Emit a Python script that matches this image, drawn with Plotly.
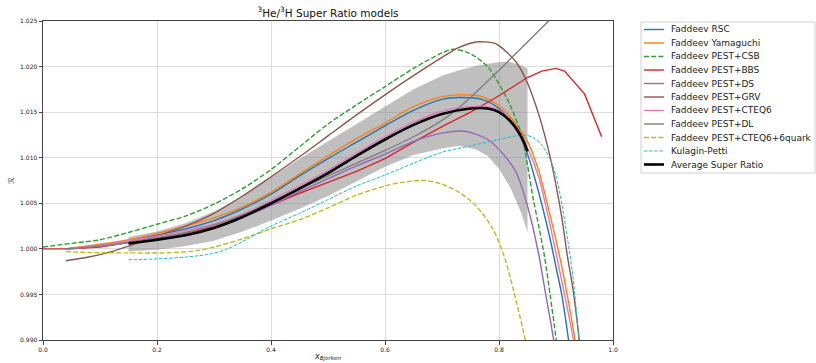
import plotly.graph_objects as go

# ---------------- data ----------------
x_rsc = [0.04, 0.1, 0.15, 0.2, 0.25, 0.3, 0.35, 0.4, 0.45, 0.5, 0.55, 0.6, 0.65, 0.7, 0.73, 0.77, 0.8, 0.83, 0.85, 0.87, 0.89, 0.9, 0.91, 0.92, 0.93]
y_rsc = [1.0000, 1.0004, 1.0009, 1.0015, 1.0022, 1.0031, 1.0044, 1.0060, 1.0080, 1.0099, 1.0117, 1.0135, 1.0152, 1.0164, 1.0166, 1.0164, 1.0154, 1.0132, 1.0104, 1.0061, 1.0010, 0.9980, 0.9950, 0.9909, 0.9862]

x_yam = [0.04, 0.1, 0.15, 0.2, 0.25, 0.3, 0.35, 0.4, 0.45, 0.5, 0.55, 0.6, 0.65, 0.7, 0.73, 0.77, 0.8, 0.83, 0.85, 0.87, 0.89, 0.91, 0.93, 0.94]
y_yam = [1.0000, 1.0005, 1.0010, 1.0017, 1.0025, 1.0034, 1.0046, 1.0062, 1.0082, 1.0102, 1.0121, 1.0138, 1.0156, 1.0167, 1.0169, 1.0167, 1.0157, 1.0137, 1.0118, 1.0085, 1.0036, 0.9981, 0.9913, 0.9875]

x_csb = [0.0, 0.05, 0.1, 0.15, 0.2, 0.25, 0.3, 0.35, 0.4, 0.45, 0.5, 0.55, 0.6, 0.65, 0.7, 0.72, 0.75, 0.78, 0.8, 0.82, 0.84, 0.85, 0.86, 0.87, 0.88, 0.89, 0.9, 0.91]
y_csb = [1.0002, 1.0006, 1.0010, 1.0018, 1.0027, 1.0036, 1.0049, 1.0066, 1.0087, 1.0112, 1.0137, 1.0158, 1.0178, 1.0198, 1.0215, 1.0219, 1.0214, 1.0200, 1.0181, 1.0157, 1.0124, 1.0092, 1.0055, 1.0024, 0.9991, 0.9948, 0.9902, 0.9850]

x_bbs = [0.0, 0.05, 0.1, 0.15, 0.2, 0.25, 0.3, 0.35, 0.4, 0.45, 0.5, 0.55, 0.6, 0.65, 0.7, 0.75, 0.8, 0.85, 0.875, 0.9, 0.915, 0.95, 0.98]
y_bbs = [1.0000, 1.0000, 1.0002, 1.0007, 1.0012, 1.0017, 1.0024, 1.0035, 1.0048, 1.0061, 1.0073, 1.0085, 1.0099, 1.0117, 1.0134, 1.0150, 1.0168, 1.0188, 1.0195, 1.0198, 1.0195, 1.0170, 1.0123]

x_ds = [0.04, 0.1, 0.15, 0.2, 0.25, 0.3, 0.35, 0.4, 0.45, 0.5, 0.55, 0.6, 0.65, 0.7, 0.74, 0.78, 0.81, 0.83, 0.85, 0.87, 0.88, 0.89, 0.9]
y_ds = [1.0000, 1.0003, 1.0007, 1.0011, 1.0016, 1.0023, 1.0034, 1.0048, 1.0063, 1.0077, 1.0091, 1.0104, 1.0118, 1.0127, 1.0129, 1.0120, 1.0102, 1.0084, 1.0047, 0.9993, 0.9957, 0.9922, 0.9885]

x_grv = [0.04, 0.08, 0.12, 0.15, 0.2, 0.25, 0.3, 0.35, 0.4, 0.45, 0.5, 0.55, 0.6, 0.65, 0.7, 0.73, 0.76, 0.79, 0.8, 0.83, 0.85, 0.87, 0.88, 0.89, 0.9, 0.91, 0.92, 0.93, 0.94, 0.95]
y_grv = [0.9987, 0.9991, 0.9997, 1.0003, 1.0014, 1.0025, 1.0039, 1.0058, 1.0079, 1.0101, 1.0124, 1.0147, 1.0169, 1.0190, 1.0210, 1.0221, 1.0227, 1.0226, 1.0223, 1.0205, 1.0182, 1.0147, 1.0125, 1.0100, 1.0070, 1.0035, 0.9992, 0.9955, 0.9905, 0.9850]

x_cteq6 = [0.04, 0.1, 0.15, 0.2, 0.25, 0.3, 0.35, 0.4, 0.45, 0.5, 0.55, 0.6, 0.65, 0.7, 0.75, 0.78, 0.8, 0.83, 0.85, 0.87, 0.89, 0.91, 0.93, 0.94]
y_cteq6 = [1.0000, 1.0004, 1.0009, 1.0014, 1.0020, 1.0027, 1.0038, 1.0053, 1.0069, 1.0086, 1.0105, 1.0123, 1.0139, 1.0151, 1.0156, 1.0156, 1.0152, 1.0135, 1.0111, 1.0078, 1.0025, 0.9965, 0.9902, 0.9860]

x_dl = [0.04, 0.1, 0.15, 0.2, 0.25, 0.3, 0.35, 0.4, 0.45, 0.5, 0.55, 0.6, 0.65, 0.7, 0.72, 0.75, 0.8, 0.85, 0.9]
y_dl = [1.0000, 1.0003, 1.0007, 1.0012, 1.0018, 1.0026, 1.0037, 1.0051, 1.0066, 1.0080, 1.0094, 1.0108, 1.0123, 1.0141, 1.0150, 1.0166, 1.0196, 1.0227, 1.0258]

x_6q = [0.04, 0.08, 0.15, 0.22, 0.27, 0.3, 0.35, 0.4, 0.45, 0.5, 0.55, 0.6, 0.63, 0.67, 0.7, 0.73, 0.76, 0.79, 0.81, 0.83, 0.846, 0.86]
y_6q = [0.9997, 0.9996, 0.99956, 0.99957, 0.9998, 1.0002, 1.0011, 1.0022, 1.0032, 1.0045, 1.0059, 1.0069, 1.0073, 1.0075, 1.0071, 1.0062, 1.0047, 1.0021, 0.9990, 0.9943, 0.9900, 0.9850]

x_kp = [0.15, 0.2, 0.25, 0.29, 0.32, 0.35, 0.4, 0.45, 0.5, 0.55, 0.6, 0.65, 0.7, 0.75, 0.8, 0.83, 0.845, 0.86, 0.875, 0.89, 0.9, 0.91, 0.92, 0.93, 0.94, 0.945]
y_kp = [0.9988, 0.9989, 0.9991, 0.9994, 0.9999, 1.0008, 1.0025, 1.0039, 1.0054, 1.0069, 1.0081, 1.0094, 1.0106, 1.0113, 1.0120, 1.0124, 1.0125, 1.0122, 1.0114, 1.0098, 1.0080, 1.0050, 1.0012, 0.9968, 0.9902, 0.9870]

x_avg = [0.15, 0.2, 0.25, 0.3, 0.35, 0.4, 0.45, 0.5, 0.55, 0.6, 0.65, 0.7, 0.75, 0.78, 0.8, 0.82, 0.84, 0.85]
y_avg = [1.0006, 1.0010, 1.0015, 1.0023, 1.0035, 1.0050, 1.0066, 1.0083, 1.0102, 1.0120, 1.0136, 1.0148, 1.0154, 1.0154, 1.0150, 1.0140, 1.0122, 1.0107]

x_band = [0.15, 0.2, 0.25, 0.3, 0.35, 0.4, 0.45, 0.5, 0.55, 0.6, 0.65, 0.7, 0.73, 0.76, 0.78, 0.8, 0.82, 0.84, 0.85]
y_band_hi = [1.0013, 1.0019, 1.0028, 1.0041, 1.0058, 1.0078, 1.0099, 1.0118, 1.0137, 1.0156, 1.0175, 1.0190, 1.0196, 1.0201, 1.0203, 1.0205, 1.0205, 1.0201, 1.0198]
y_band_lo = [0.9997, 0.9999, 1.0003, 1.0009, 1.0019, 1.0031, 1.0044, 1.0058, 1.0074, 1.0090, 1.0103, 1.0110, 1.0113, 1.0109, 1.0102, 1.0088, 1.0067, 1.0038, 1.0018]

x_ticks = [0.0, 0.2, 0.4, 0.6, 0.8, 1.0]
y_ticks = [0.990, 0.995, 1.000, 1.005, 1.010, 1.015, 1.020, 1.025]

# ---------------- figure ----------------
FONT = "DejaVu Sans"
W, H = 816, 363
ML, MR, MT, MB = 43, 203, 21, 23
PW, PH = W - ML - MR, H - MT - MB

fig = go.Figure()

# uncertainty band of the average
fig.add_trace(go.Scatter(
    x=x_band + x_band[::-1], y=y_band_hi + y_band_lo[::-1],
    fill="toself", fillcolor="rgba(128,128,128,0.5)", line=dict(width=0),
    mode="lines", hoverinfo="skip", showlegend=False))

series = [
    ("Faddeev RSC", x_rsc, y_rsc, "#1f77b4", "solid", 1.4, "spline"),
    ("Faddeev Yamaguchi", x_yam, y_yam, "#ff7f0e", "solid", 1.4, "spline"),
    ("Faddeev PEST+CSB", x_csb, y_csb, "#2ca02c", "5px,2.2px", 1.4, "spline"),
    ("Faddeev PEST+BBS", x_bbs, y_bbs, "#d62728", "solid", 1.4, "linear"),
    ("Faddeev PEST+DS", x_ds, y_ds, "#9467bd", "solid", 1.4, "spline"),
    ("Faddeev PEST+GRV", x_grv, y_grv, "#8c564b", "solid", 1.4, "spline"),
    ("Faddeev PEST+CTEQ6", x_cteq6, y_cteq6, "#e377c2", "solid", 1.4, "spline"),
    ("Faddeev PEST+DL", x_dl, y_dl, "#7f7f7f", "solid", 1.4, "spline"),
    ("Faddeev PEST+CTEQ6+6quark", x_6q, y_6q, "#bcbd22", "5px,2.2px", 1.4, "spline"),
    ("Kulagin-Petti", x_kp, y_kp, "#17becf", "3.5px,1.6px", 1.0, "spline"),
    ("Average Super Ratio", x_avg, y_avg, "#000000", "solid", 2.6, "spline"),
]
for name, xs, ys, col, dash, w, shape in series:
    fig.add_trace(go.Scatter(
        x=xs, y=ys, name=name, mode="lines", showlegend=False,
        line=dict(color=col, dash=dash, width=w, shape=shape, smoothing=0.8)))

# ---- legend box (matplotlib-style, compact rows) drawn in paper coordinates ----
def px_to_paper_x(px):
    return (px - ML) / PW

def py_to_paper_y(py):
    return (H - MB - py) / PH

LEG_LEFT, LEG_RIGHT, LEG_TOP = 641, 815, 22
ROW0, ROW_STEP = 29.5, 13.5
LEG_BOTTOM = ROW0 + ROW_STEP * (len(series) - 1) + 8.5
shapes = [dict(type="rect", xref="paper", yref="paper",
               x0=px_to_paper_x(LEG_LEFT), x1=px_to_paper_x(LEG_RIGHT),
               y0=py_to_paper_y(LEG_BOTTOM), y1=py_to_paper_y(LEG_TOP),
               line=dict(color="#d0d0d0", width=1), fillcolor="white", layer="above")]
annotations = []
for i, (name, xs, ys, col, dash, w, shape) in enumerate(series):
    yy = py_to_paper_y(ROW0 + i * ROW_STEP)
    shapes.append(dict(type="line", xref="paper", yref="paper",
                       x0=px_to_paper_x(644), x1=px_to_paper_x(664), y0=yy, y1=yy,
                       line=dict(color=col, width=w if w > 1.2 else 1.1, dash=dash), layer="above"))
    annotations.append(dict(text=name, xref="paper", yref="paper",
                            x=px_to_paper_x(670), y=yy, xanchor="left", yanchor="middle",
                            showarrow=False, borderpad=0,
                            font=dict(family=FONT, size=9, color="#222222")))

axis_common = dict(
    showline=True, mirror=True, linecolor="#444444", linewidth=1,
    showgrid=True, gridcolor="#dcdcdc", gridwidth=1, zeroline=False,
    ticks="outside", ticklen=3.5, tickwidth=0.8, tickcolor="#444444",
    tickfont=dict(family=FONT, size=6, color="#222222"), automargin=False,
)
fig.update_xaxes(range=[0.0, 1.0], tickvals=x_ticks,
                 ticktext=[f"{v:.1f}" for v in x_ticks],
                 title=dict(text="<i>x</i><sub><i>Bjorken</i></sub>",
                            font=dict(family=FONT, size=8, color="#222222"), standoff=1),
                 **axis_common)
fig.update_yaxes(range=[0.990, 1.025], tickvals=y_ticks,
                 ticktext=[f"{v:.3f}" for v in y_ticks],
                 title=dict(text="ℛ", font=dict(family=FONT, size=8, color="#222222"), standoff=4),
                 **axis_common)

fig.update_layout(
    width=W, height=H, template="none",
    margin=dict(l=ML, r=MR, t=MT, b=MB, pad=0, autoexpand=False),
    paper_bgcolor="white", plot_bgcolor="white",
    font=dict(family=FONT, color="#222222"),
    title=dict(text="<sup>3</sup>He/<sup>3</sup>H Super Ratio models",
               x=0.5, xref="paper", xanchor="center",
               y=1 - 13 / H, yref="container", yanchor="middle",
               font=dict(family=FONT, size=10.5, color="#111111")),
    shapes=shapes, annotations=annotations,
    showlegend=False,
)

fig.write_html("out.html")
